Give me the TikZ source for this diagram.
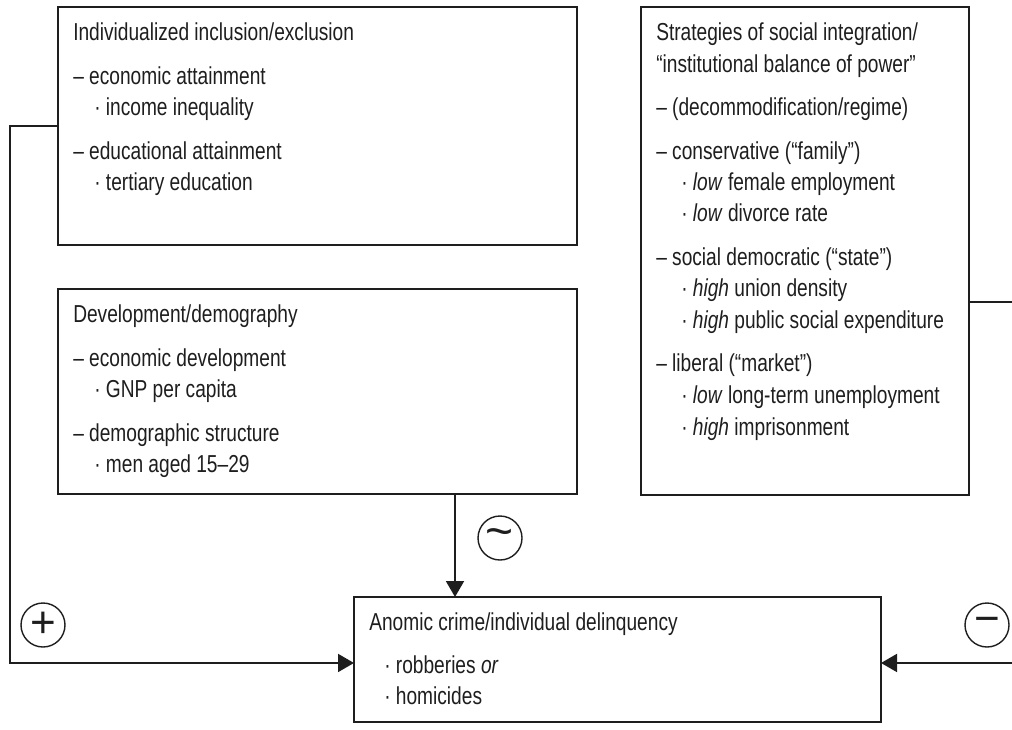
\documentclass[tikz,border=0pt]{standalone}
\usepackage{fontspec}
\setmainfont[FakeStretch=0.78]{Liberation Sans}
\newfontfamily\symfont{Liberation Sans}
\usetikzlibrary{arrows.meta}
\definecolor{ink}{HTML}{1E1E1E}
\begin{document}
\begin{tikzpicture}[x=0.75pt,y=-0.75pt,
  box/.style={draw=ink, line width=1.4pt, inner sep=0pt, outer sep=0pt, fill=none},
  txt/.style={anchor=base west, inner sep=0pt, text=ink, font=\fontsize{18.4}{22}\selectfont},
  conn/.style={draw=ink, line width=1.4pt},
  arr/.style={conn, -{Triangle[length=12pt,width=13.5pt]}},
  sign/.style={circle, draw=ink, line width=1.05pt, minimum size=33pt, inner sep=0pt, text=ink, font=\symfont\fontsize{33}{33}\selectfont}]
\useasboundingbox (0,0) rectangle (1012,729);
% boxes
\node[box, minimum width=389.25pt, minimum height=178.5pt] (incl) at (317.5,126) {};
\node[box, minimum width=389.25pt, minimum height=153.75pt] (dev) at (317.5,391.5) {};
\node[box, minimum width=246pt, minimum height=366pt] (strat) at (805,251) {};
\node[box, minimum width=395.25pt, minimum height=93.75pt] (crime) at (617.5,659.5) {};
% box 1 text
\node[txt] (i1) at (73,40) {Individualized inclusion/exclusion};
\node[txt] (i2) at (73,84) {– economic attainment};
\node[txt] (i3) at (94,115) {· income inequality};
\node[txt] (i4) at (73,159) {– educational attainment};
\node[txt] (i5) at (94,190) {· tertiary education};
% box 2 text
\node[txt] (d1) at (73,322) {Development/demography};
\node[txt] (d2) at (73,366) {– economic development};
\node[txt] (d3) at (94,397) {· GNP per capita};
\node[txt] (d4) at (73,441) {– demographic structure};
\node[txt] (d5) at (94,472) {· men aged 15–29};
% box 3 text
\node[txt] (s1) at (656,40) {Strategies of social integration/};
\node[txt] (s2) at (656,72) {“institutional balance of power”};
\node[txt] (s3) at (656,115) {– (decommodification/regime)};
\node[txt] (s4) at (656,159) {– conservative (“family”)};
\node[txt] (s5) at (681,190) {· \textit{low} female employment};
\node[txt] (s6) at (681,221) {· \textit{low} divorce rate};
\node[txt] (s7) at (656,265) {– social democratic (“state”)};
\node[txt] (s8) at (681,296) {· \textit{high} union density};
\node[txt] (s9) at (681,328) {· \textit{high} public social expenditure};
\node[txt] (s10) at (656,371) {– liberal (“market”)};
\node[txt] (s11) at (681,403) {· \textit{low} long-term unemployment};
\node[txt] (s12) at (681,435) {· \textit{high} imprisonment};
% box 4 text
\node[txt] (c1) at (369,630) {Anomic crime/individual delinquency};
\node[txt] (c2) at (384,673) {· robberies \textit{or}};
\node[txt] (c3) at (384,704) {· homicides};
% connectors
\coordinate (ax) at (455,0);
\draw[arr] (incl.west) -- ++(-48,0) |- ([yshift=-2.6pt]crime.west);
\draw[arr] ([yshift=-38pt]strat.east) -- ++(60,0) |- ([yshift=-2.6pt]crime.east);
\draw[arr] (dev.south -| ax) -- (crime.north -| ax);
% signs
\node[sign] (plus) at (43,625) {+};
\node[sign] (minus) at (987,625) {−};
\node[sign, font=\symfont\fontsize{36}{36}\selectfont] (tilde) at (500,538) {\textasciitilde};
\end{tikzpicture}
\end{document}
